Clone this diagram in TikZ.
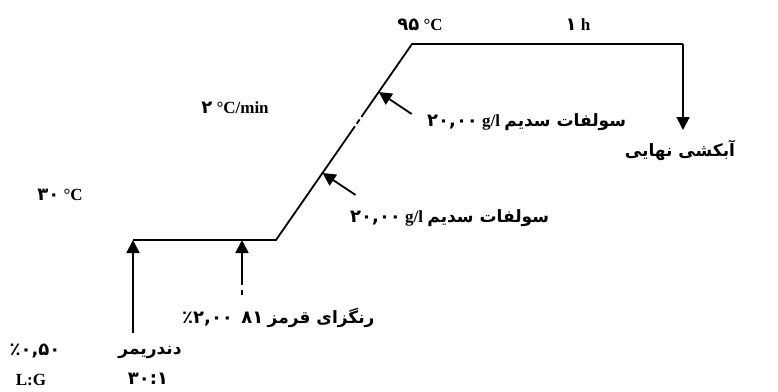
\documentclass[tikz,border=0pt]{standalone}
\usepackage{fontspec}
\setmainfont{Liberation Serif}
\newfontfamily\fa[Script=Arabic]{DejaVu Sans}
\TeXXeTstate=1
\usetikzlibrary{arrows.meta,calc}
\newcommand\fw[1]{{\fa\bfseries\fontsize{17}{19}\selectfont\beginR #1\endR}}
\newcommand\fd[1]{{\fa\bfseries\fontsize{18}{20}\selectfont #1}}
\tikzset{
 prof/.style={line width=1.8pt},
 arr/.style={line width=1.8pt,-{Triangle[length=13pt,width=13pt]}},
 lbl/.style={font=\bfseries\fontsize{17}{19}\selectfont, inner sep=0pt},
}
\begin{document}
\begin{tikzpicture}[x=1pt,y=-1pt]
\useasboundingbox (0,0) rectangle (778,391);
% profile
\coordinate (a) at (133,240);
\coordinate (b) at (276,240);
\coordinate (c) at (412,44);
\coordinate (d) at (683,44);
\draw[prof] (a) -- (b) -- ($(b)!0.58!(c)$);
\draw[prof] ($(b)!0.593!(c)$) -- ($(b)!0.615!(c)$);
\draw[prof] ($(b)!0.628!(c)$) -- (c) -- (d);
% arrows
\coordinate (u1) at (133,333);
\draw[arr] (u1) -- (a);
\coordinate (e) at (242,240);
\coordinate (e1) at (242,285);
\coordinate (e2) at (242,290);
\coordinate (e3) at (242,295);
\draw[prof] (e2) -- (e3);
\draw[arr] (e1) -- (e);
\coordinate (tip1) at ($(b)!0.755!(c)$);
\coordinate (tail1) at ($(tip1)+(33,22)$);
\draw[arr] (tail1) -- (tip1);
\coordinate (tip2) at ($(b)!0.342!(c)$);
\coordinate (tail2) at ($(tip2)+(33,22)$);
\draw[arr] (tail2) -- (tip2);
\coordinate (f) at (683,130);
\draw[arr] (d) -- (f);
% labels
\node[lbl] (t95) at (420,25) {\fd{۹۵} °C};
\node[lbl] (t1h) at (578,25) {\fd{۱} h};
\node[lbl] (trate) at (235,108) {\fd{۲} °C/min};
\node[lbl] (t30) at (60,195) {\fd{۳۰} °C};
\node[lbl,anchor=west] (s1) at (427,122) {\fd{۲۰,۰۰}\ g/l\ \fw{سولفات سدیم}};
\node[lbl,anchor=west] (s2) at (350,218) {\fd{۲۰,۰۰}\ g/l\ \fw{سولفات سدیم}};
\node[lbl] (rinse) at (680,150) {\fw{آبکشی نهایی}};
\node[lbl,anchor=west] (dye) at (182,318) {\fd{\hbox{٪}\hbox{۲,۰۰}}\ \ \fd{۸۱}\ \fw{رنگزای قرمز}};
\node[lbl] (pct) at (35,351) {\fd{\hbox{٪}\hbox{۰,۵۰}}};
\node[lbl] (dend) at (150,352) {\fw{دندریمر}};
\node[lbl] (lg) at (31,380) {L:G};
\node[lbl] (ratio) at (148,379) {\fd{۳۰:۱}};
\end{tikzpicture}
\end{document}
